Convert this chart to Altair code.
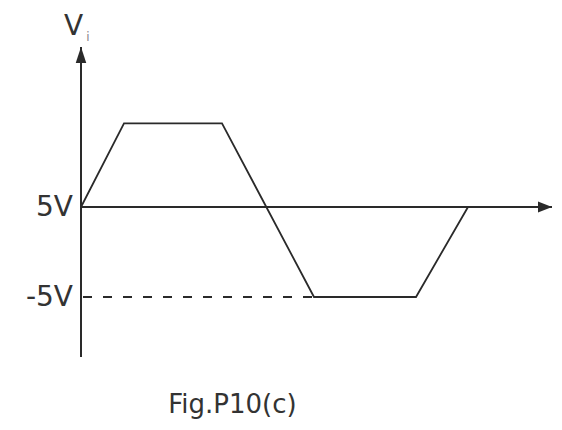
import altair as alt
import pandas as pd

# waveform V_i(t): time in arbitrary units, voltage in volts
wave_t = [0, 43, 141, 233, 335, 387]
wave_v = [5, 14.3, 14.3, -5, -5, 5]

# axis extents
t_axis_end = 471
v_axis_top = 22.78
v_axis_bottom = -11.67
v_axis_level = 5       # horizontal axis (labelled 5V)
v_dash_level = -5      # dashed reference (labelled -5V)
t_dash_end = 233

level_labels = ["5V", "-5V"]
level_values = [v_axis_level, v_dash_level]
y_label_main = "V"
y_label_sub = "i"
caption = "Fig.P10(c)"

INK = "#2a2a2a"
FONT = "DejaVu Sans"

xs = alt.Scale(domain=[0, t_axis_end], nice=False, zero=False)
ys = alt.Scale(domain=[v_axis_bottom, v_axis_top], nice=False, zero=False)
X = lambda f: alt.X(f, type="quantitative", scale=xs, axis=None)
Y = lambda f: alt.Y(f, type="quantitative", scale=ys, axis=None)

wave_df = pd.DataFrame({"t": wave_t, "v": wave_v, "o": range(len(wave_t))})
wave = alt.Chart(wave_df).mark_line(color=INK, strokeWidth=1.8).encode(
    x=X("t"), y=Y("v"), order="o:Q")

vaxis_df = pd.DataFrame({"t": [0], "v1": [v_axis_bottom], "v2": [v_axis_top]})
vaxis = alt.Chart(vaxis_df).mark_rule(color=INK, strokeWidth=2).encode(
    x=X("t"), y=Y("v1"), y2="v2")

haxis_df = pd.DataFrame({"t1": [0], "t2": [t_axis_end], "v": [v_axis_level]})
haxis = alt.Chart(haxis_df).mark_rule(color=INK, strokeWidth=2).encode(
    x=X("t1"), x2="t2", y=Y("v"))

dash_df = pd.DataFrame({"t1": [0], "t2": [t_dash_end], "v": [v_dash_level]})
dash = alt.Chart(dash_df).mark_rule(color=INK, strokeWidth=2, strokeDash=[9, 11],
                                    strokeDashOffset=-2).encode(
    x=X("t1"), x2="t2", y=Y("v"))

up_df = pd.DataFrame({"t": [0], "v": [v_axis_top]})
up_arrow = alt.Chart(up_df).mark_point(
    shape="M0,0L-0.33,1L0.33,1Z", size=1024, filled=True, fill=INK,
    strokeWidth=0, opacity=1).encode(x=X("t"), y=Y("v"))

right_df = pd.DataFrame({"t": [t_axis_end], "v": [v_axis_level]})
right_arrow = alt.Chart(right_df).mark_point(
    shape="M0,0L-1,-0.4L-1,0.4Z", size=784, filled=True, fill=INK,
    strokeWidth=0, opacity=1).encode(x=X("t"), y=Y("v"))

lab_df = pd.DataFrame({"t": [0] * len(level_labels), "v": level_values,
                       "txt": level_labels})
labels = alt.Chart(lab_df).mark_text(
    font=FONT, fontSize=28, fill="#333", align="right", baseline="middle",
    dx=-8, dy=1.5).encode(x=X("t"), y=Y("v"), text="txt:N")

vl_df = pd.DataFrame({"t": [0], "v": [v_axis_top], "txt": [y_label_main]})
vlabel = alt.Chart(vl_df).mark_text(
    font=FONT, fontSize=28, fill="#333", align="center", baseline="middle",
    dx=-7.5, dy=-20).encode(x=X("t"), y=Y("v"), text="txt:N")

sub_df = pd.DataFrame({"t": [0], "v": [v_axis_top], "txt": [y_label_sub]})
sublabel = alt.Chart(sub_df).mark_text(
    font=FONT, fontSize=12, fill="#888888", align="center", baseline="middle",
    dx=7, dy=-10).encode(x=X("t"), y=Y("v"), text="txt:N")

chart = alt.layer(dash, haxis, vaxis, wave, up_arrow, right_arrow,
                  labels, vlabel, sublabel).properties(
    width=471, height=310,
    background="white",
    padding={"left": 73, "top": 39, "right": 2, "bottom": 65},
    autosize=alt.AutoSizeParams(type="none"),
    title=alt.TitleParams(caption, orient="bottom", anchor="middle", frame="group",
                          dx=-84, offset=55, baseline="alphabetic", font=FONT,
                          fontSize=26, fontWeight="normal", color="#333"),
).configure_view(strokeWidth=0, stroke="transparent")

chart.save("out.html", embed_options={"renderer": "svg", "actions": False})
